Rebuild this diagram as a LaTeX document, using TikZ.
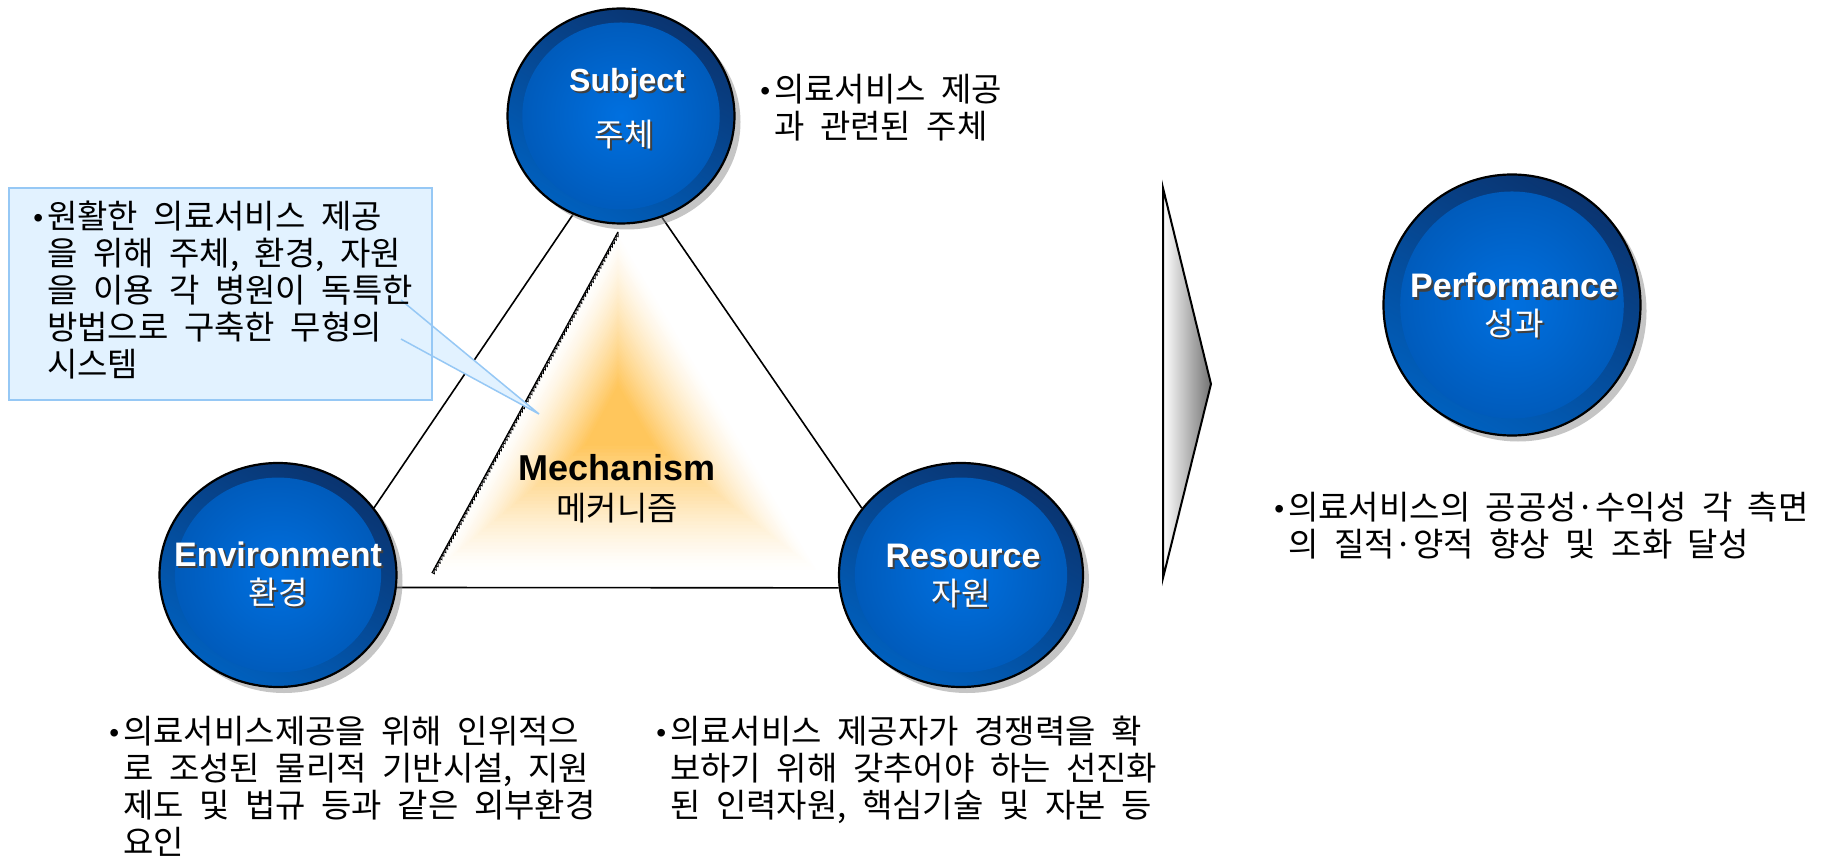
\documentclass[tikz,border=0pt]{standalone}
\usepackage{fontspec}
\setmainfont{Liberation Sans}
\newfontfamily\krfont{Noto Sans CJK KR}[WordSpace=2.1]
\usetikzlibrary{shapes.geometric,shadows,calc,decorations.pathmorphing,backgrounds}

\definecolor{ringdark}{RGB}{10,52,112}
\definecolor{ringlight}{RGB}{0,96,190}
\definecolor{discin}{RGB}{0,112,224}
\definecolor{discout}{RGB}{0,88,182}
\definecolor{glow}{RGB}{255,198,92}
\definecolor{notefill}{RGB}{226,242,255}
\definecolor{noteline}{RGB}{150,200,245}

\tikzset{
  ball/.style 2 args={ellipse, inner sep=0pt, minimum width=#1, minimum height=#2,
    draw=black, line width=2.2pt, top color=ringdark, bottom color=ringlight, shading angle=-30,
    drop shadow={shadow xshift=6pt, shadow yshift=-6pt, fill=black!45},
    path picture={\shade[inner color=discin, outer color=discout]
      (path picture bounding box.center) ellipse [x radius=0.435*#1, y radius=0.435*#2];}},
  edge/.style={line width=1.6pt, black},
  entitle/.style={anchor=base, inner sep=0pt, font=\bfseries\fontsize{34}{34}\selectfont},
  kotitle/.style={anchor=base, inner sep=0pt, font=\krfont\fontsize{32}{32}\selectfont},
  notetext/.style={anchor=base west, inner sep=0pt, align=left, text=black,
    font=\krfont\fontsize{33}{37}\selectfont}
}

% white label with a dark drop shadow
\newcommand\shadowlabel[5]{%
  \node[#4, text=black!75] (#1s) at ({#2+2},{#3+2}) {#5};
  \node[#4, text=white] (#1) at (#2,#3) {#5};
}
\newcommand\bul{\llap{\raisebox{1pt}{\rmfamily\fontsize{28}{28}\selectfont •}\hspace{4pt}}}

\begin{document}
\begin{tikzpicture}[x=1pt, y=-1pt]
\useasboundingbox (0,0) rectangle (1821,861);

% the four circles
\node[ball={227pt}{215pt}] (subj) at (621,116) {};
\node[ball={237pt}{224pt}] (env) at (278,575) {};
\node[ball={244pt}{224pt}] (res) at (961,575) {};
\node[ball={257pt}{261pt}] (perf) at (1512,305) {};

\begin{pgfonlayer}{background}
\fill[white] (0,0) rectangle (1821,861);
% orange glow of the mechanism triangle
\coordinate (gT) at (618,232);
\coordinate (gL) at (432,573);
\coordinate (gR) at (820,573);
\coordinate (gC) at (618,418);
\foreach \i in {0,...,44}{
  \pgfmathsetmacro\s{1-\i/45}
  \pgfmathsetmacro\p{min(100,130*(1-\s)^1.3)}
  \fill[glow!\p!white] ($(gC)!\s!(gT)$) -- ($(gC)!\s!(gL)$) -- ($(gC)!\s!(gR)$) -- cycle;
}
\draw[line width=1.3pt] (gT) -- (gL);
\draw[line width=0.8pt, decorate, decoration={saw, segment length=4pt, amplitude=2.5pt}] (gT) -- (gL);
% triangle edges between the circles
\draw[edge] (subj.244.6) -- (env.35.3);
\draw[edge] (subj.292.6) -- (res.146.4);
\draw[edge] (env.-6.3) -- (res.186);
\end{pgfonlayer}

% circle labels
\shadowlabel{subjen}{627}{92}{entitle, font=\bfseries\fontsize{32}{32}\selectfont}{Subject}
\shadowlabel{subjko}{624}{147}{kotitle}{주체}
\shadowlabel{enven}{278}{566}{entitle}{Environment}
\shadowlabel{envko}{278}{604}{kotitle}{환경}
\shadowlabel{resen}{963}{567}{entitle}{Resource}
\shadowlabel{resko}{961}{605}{kotitle}{자원}
\shadowlabel{perfen}{1514}{298}{entitle}{Performance}
\shadowlabel{perfko}{1514}{335}{kotitle}{성과}

% mechanism
\node[entitle, font=\bfseries\fontsize{36}{36}\selectfont] (mechen) at (617,480) {Mechanism};
\node[kotitle, font=\krfont\fontsize{33}{33}\selectfont] (mechko) at (617,520) {메커니즘};

% callout
\node[fill=notefill, inner sep=0pt, minimum width=423pt, minimum height=212pt] (callout) at (220.5,294) {};
\coordinate (p1) at (401,300);
\coordinate (p2) at (401,339);
\coordinate (tip) at (539,414);
\fill[notefill] (p1) -- (tip) -- (p2) -- cycle;
\draw[noteline, line width=1.5pt] (p1) -- (tip) -- (p2);
\draw[noteline, line width=1.5pt] (callout.north west) rectangle (callout.south east);
% base of a multi-line note is its last line
\node[notetext] (calloutTxt) at (47,376) {\bul 원활한 의료서비스 제공\\을 위해 주체, 환경, 자원\\을 이용 각 병원이 독특한\\방법으로 구축한 무형의\\시스템};

% transition arrow
\draw[line width=2pt, left color=white, right color=black!55] (1163,188) -- (1211,384) -- (1163,578) -- cycle;

% notes
\node[notetext] (subjNote) at (774,139) {\bul 의료서비스 제공\\과 관련된 주체};
\node[notetext] (envNote) at (123,854) {\bul 의료서비스제공을 위해 인위적으\\로 조성된 물리적 기반시설, 지원\\제도 및 법규 등과 같은 외부환경\\요인};
\node[notetext] (resNote) at (670,817) {\bul 의료서비스 제공자가 경쟁력을 확\\보하기 위해 갖추어야 하는 선진화\\된 인력자원, 핵심기술 및 자본 등};
\node[notetext] (perfNote) at (1288,556) {\bul 의료서비스의 공공성·수익성 각 측면\\의 질적·양적 향상 및 조화 달성};
\end{tikzpicture}
\end{document}
